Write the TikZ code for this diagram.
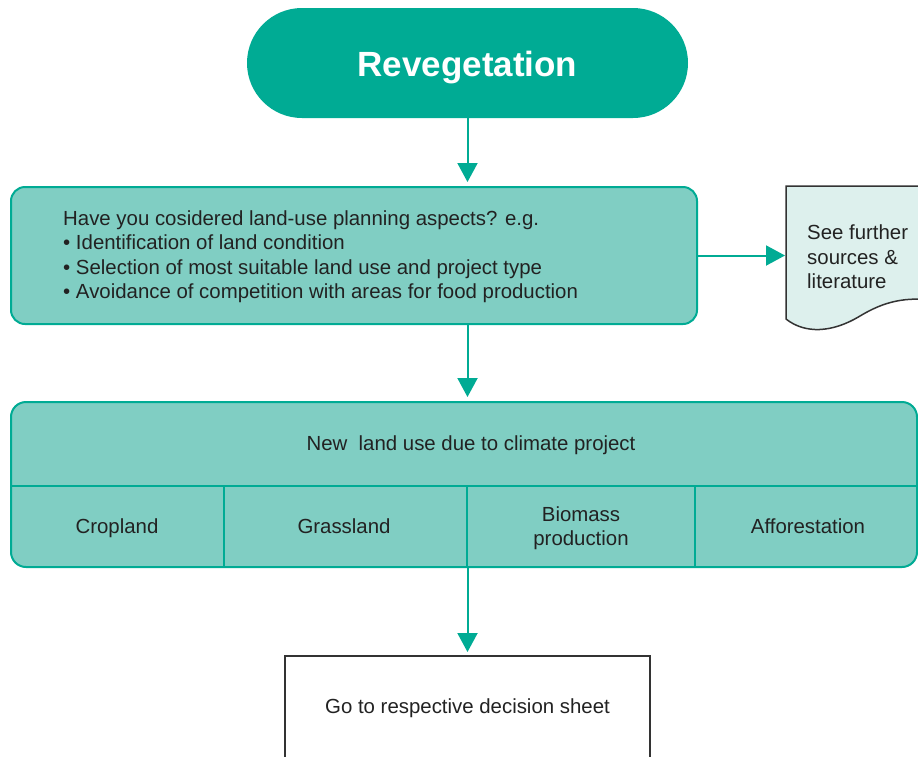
\documentclass[tikz,border=0pt]{standalone}
\usepackage{fontspec}
\setmainfont{Liberation Sans}
\usetikzlibrary{arrows.meta}
\definecolor{tealdark}{RGB}{0,171,148}
\definecolor{teallight}{RGB}{128,206,195}
\definecolor{docfill}{RGB}{221,240,237}
\definecolor{ink}{RGB}{34,34,34}
\definecolor{edgegray}{RGB}{51,51,51}
\begin{document}
\begin{tikzpicture}[x=1pt,y=-1pt,
  conn/.style={draw=tealdark,line width=2pt,shorten >=4pt,-{Triangle[width=20pt,length=19pt]}},
  startbox/.style={rectangle,rounded corners=55pt,minimum width=441pt,minimum height=110pt,fill=tealdark,draw=none,text=white,font=\fontsize{35}{40}\selectfont\bfseries},
  tealbox/.style={rectangle,rounded corners=14pt,fill=teallight,draw=tealdark,line width=2pt,inner sep=0pt},
  lbl/.style={text=ink,font=\fontsize{20.4}{24.5}\selectfont,inner sep=0pt},
  cell/.style={lbl,text height=14.5pt,text depth=4pt},
  divider/.style={draw=tealdark,line width=1.5pt},
  docshape/.style={fill=docfill,draw=edgegray,line width=1.5pt},
  sheetbox/.style={rectangle,fill=white,draw=edgegray,line width=1.5pt,minimum width=365pt,minimum height=104pt,text=ink,font=\fontsize{20.4}{24.5}\selectfont}
]
\useasboundingbox (0,0) rectangle (918,756);
\clip (0,0) rectangle (918,756);
\fill[white] (0,0) rectangle (918,756);

% start
\node[startbox,text height=29pt,text depth=3pt] (start) at (467.5,63) {Revegetation};

% question box
\node[tealbox,minimum width=686pt,minimum height=137pt] (q) at (354,255.5) {};
\node[lbl,anchor=west,align=left] (qtext) at (63,256.5) {Have you cosidered land-use planning aspects? e.g.\\
• Identification of land condition\\
• Selection of most suitable land use and project type\\
• Avoidance of competition with areas for food production};

% document shape
\node[rectangle,minimum width=144pt,minimum height=134pt,anchor=north west,inner sep=0pt] (doc) at (786,186) {};
\path[docshape] (786,186) -- (935,186) -- (935,300)
  .. controls (905,297) and (885,301) .. (860,316)
  .. controls (832,333) and (805,334) .. (786,319) -- cycle;
\node[lbl,anchor=west,align=left] (doctext) at (807,257) {See further\\sources \&\\literature};

% land use box
\node[tealbox,rounded corners=15pt,minimum width=906pt,minimum height=165pt] (land) at (464,484.5) {};
\draw[divider] (11,486) -- (917,486);
\draw[divider] (224,486) -- (224,567);
\draw[divider] (467,486) -- (467,567);
\draw[divider] (695,486) -- (695,567);
\node[cell] (head) at (471,445) {New\ \ land use due to climate project};
\node[cell] (crop) at (117,528) {Cropland};
\node[cell] (grass) at (344,528) {Grassland};
\node[lbl,align=center] (bio) at (581,528) {Biomass\\production};
\node[cell] (affo) at (808,528) {Afforestation};

% final box
\node[sheetbox,anchor=north,text height=14.5pt,text depth=4pt] (sheet) at (467.5,655) {Go to respective decision sheet};

% connectors
\draw[conn] (start.south) -- (start.south |- q.north);
\draw[conn,shorten >=1pt] (q.east) -- (q.east -| doc.west);
\draw[conn] (start.south |- q.south) -- (start.south |- land.north);
\draw[conn,shorten >=3pt] (start.south |- land.south) -- (sheet.north);
\end{tikzpicture}
\end{document}
